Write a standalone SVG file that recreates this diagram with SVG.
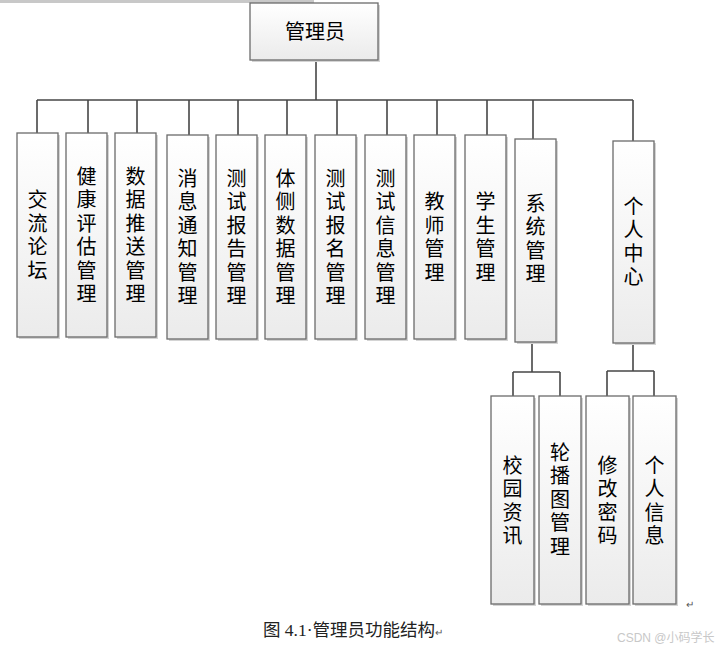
<svg xmlns="http://www.w3.org/2000/svg" width="727" height="650" viewBox="0 0 727 650">
<defs>
<linearGradient id="g" x1="0" y1="0" x2="0" y2="1">
<stop offset="0" stop-color="#ffffff"/>
<stop offset="1" stop-color="#ebebeb"/>
</linearGradient>
<style>
.box{fill:url(#g);stroke:#6b6b6b;stroke-width:1.3}
.sh{fill:#d4d4d4}
.t{font-family:"Noto Sans CJK SC","Liberation Sans",sans-serif;font-size:20px;fill:#000;text-anchor:middle}
.v{font-family:"Noto Sans CJK SC","Liberation Sans",sans-serif;font-size:20px;fill:#000;text-anchor:middle;writing-mode:vertical-rl;letter-spacing:3.5px}
.c{fill:none;stroke:#474747;stroke-width:1.6}
</style>
</defs>
<rect width="727" height="650" fill="#fff"/>
<rect x="0" y="0" width="314" height="3" fill="#c8c8c8"/>
<g id="connectors" class="c">
<path d="M316 60V100M37 100H633"/>
<path d="M37 100V133M88 100V133M137 100V133M189 100V135M238 100V135M287 100V135M337 100V135M387 100V135M437 100V135M487 100V135M533 100V139M633 100V141"/>
<path d="M532 342V372M513 372H560M513 372V396M560 372V396"/>
<path d="M633 343V371M607 371H654M607 371V396M654 371V396"/>
</g>
<g id="root"><rect class="sh" x="252" y="5" width="128" height="57"/><rect class="box" x="250" y="3" width="128" height="57"/><text class="t" x="315" y="39" font-size="19">管理员</text></g>
<g id="n1"><rect class="sh" x="19" y="135" width="41" height="204"/><rect class="box" x="17" y="133" width="41" height="204"/><text class="v" x="37.5" y="236.5">交流论坛</text></g>
<g id="n2"><rect class="sh" x="68" y="135" width="41" height="204"/><rect class="box" x="66" y="133" width="41" height="204"/><text class="v" x="86.5" y="236.5">健康评估管理</text></g>
<g id="n3"><rect class="sh" x="117" y="135" width="41" height="204"/><rect class="box" x="115" y="133" width="41" height="204"/><text class="v" x="135.5" y="236.5">数据推送管理</text></g>
<g id="n4"><rect class="sh" x="169" y="137" width="41" height="204"/><rect class="box" x="167" y="135" width="41" height="204"/><text class="v" x="187.5" y="238.5">消息通知管理</text></g>
<g id="n5"><rect class="sh" x="218" y="137" width="41" height="204"/><rect class="box" x="216" y="135" width="41" height="204"/><text class="v" x="236.5" y="238.5">测试报告管理</text></g>
<g id="n6"><rect class="sh" x="267" y="137" width="41" height="204"/><rect class="box" x="265" y="135" width="41" height="204"/><text class="v" x="285.5" y="238.5">体侧数据管理</text></g>
<g id="n7"><rect class="sh" x="317" y="137" width="41" height="204"/><rect class="box" x="315" y="135" width="41" height="204"/><text class="v" x="335.5" y="238.5">测试报名管理</text></g>
<g id="n8"><rect class="sh" x="367" y="137" width="41" height="204"/><rect class="box" x="365" y="135" width="41" height="204"/><text class="v" x="385.5" y="238.5">测试信息管理</text></g>
<g id="n9"><rect class="sh" x="416" y="137" width="41" height="204"/><rect class="box" x="414" y="135" width="41" height="204"/><text class="v" x="434.5" y="238.5">教师管理</text></g>
<g id="n10"><rect class="sh" x="467" y="137" width="41" height="204"/><rect class="box" x="465" y="135" width="41" height="204"/><text class="v" x="485.5" y="238.5">学生管理</text></g>
<g id="n11"><rect class="sh" x="517" y="141" width="41" height="203"/><rect class="box" x="515" y="139" width="41" height="203"/><text class="v" x="535.5" y="240">系统管理</text></g>
<g id="n12"><rect class="sh" x="615" y="143" width="41" height="202"/><rect class="box" x="613" y="141" width="41" height="202"/><text class="v" x="633.5" y="243">个人中心</text></g>
<g id="n13"><rect class="sh" x="493" y="398" width="43" height="208"/><rect class="box" x="491" y="396" width="43" height="208"/><text class="v" x="512.5" y="502">校园资讯</text></g>
<g id="n14"><rect class="sh" x="541" y="398" width="42" height="208"/><rect class="box" x="539" y="396" width="42" height="208"/><text class="v" x="560" y="501">轮播图管理</text></g>
<g id="n15"><rect class="sh" x="588" y="398" width="43" height="208"/><rect class="box" x="586" y="396" width="43" height="208"/><text class="v" x="607.5" y="502">修改密码</text></g>
<g id="n16"><rect class="sh" x="635" y="398" width="43" height="208"/><rect class="box" x="633" y="396" width="43" height="208"/><text class="v" x="654.5" y="502">个人信息</text></g>
<text x="686" y="608" font-family="Liberation Sans, sans-serif" font-size="10" fill="#555">↵</text>
<text x="263" y="636" font-family="Liberation Serif, Noto Sans CJK SC, serif" font-size="17.5" fill="#222">图 4.1·管理员功能结构<tspan font-size="10" fill="#555">↵</tspan></text>
<text x="617" y="642" font-family="Liberation Sans, Noto Sans CJK SC, sans-serif" font-size="12" fill="#c8c8c8">CSDN @小码学长</text>
</svg>
